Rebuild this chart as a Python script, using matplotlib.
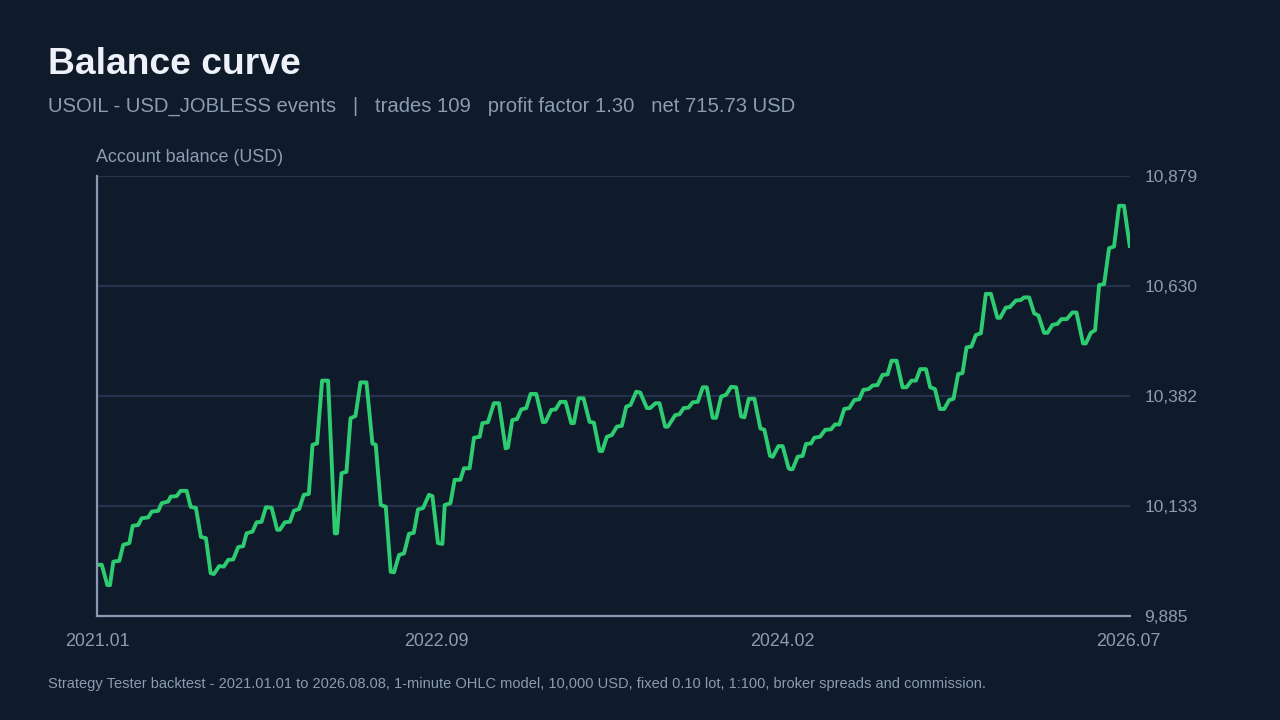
"""Balance curve - USOIL / USD_JOBLESS strategy tester backtest, dark theme."""
import matplotlib
matplotlib.use("Agg")
import matplotlib.pyplot as plt
from matplotlib.ticker import FuncFormatter

plt.rcParams["font.family"] = ["Liberation Sans", "DejaVu Sans"]

BG = "#0f1a2b"
GREEN = "#2ecc71"
GRID = "#24334a"
SPINE = "#8a9ab2"
MUTED = "#8d9cb1"
TITLE = "#eef2f8"

# x = position along the trade sequence (0..109), y = account balance in USD
curve_x = [
    0.0, 0.50, 1.09, 1.37, 1.72, 2.35, 2.77, 3.41, 3.76, 4.35, 4.71, 5.41, 5.77, 6.46,
    6.82, 7.52, 7.77, 8.40, 8.82, 9.46, 9.88, 10.44, 10.96, 11.49, 11.99, 12.33, 12.89,
    13.39, 13.84, 14.37, 14.90, 15.42, 15.78, 16.41, 16.84, 17.36, 17.82, 18.42, 19.01,
    19.29, 19.82, 20.35, 20.77, 21.33, 21.82, 22.35, 22.74, 23.22, 23.75, 24.38, 24.74,
    25.09, 25.33, 25.80, 26.32, 26.75, 27.27, 27.80, 28.43, 29.06, 29.41, 29.94, 30.47,
    30.99, 31.34, 31.87, 32.40, 32.92, 33.42, 33.87, 34.40, 35.03, 35.39, 35.98, 36.44,
    36.69, 37.29, 37.74, 38.34, 38.72, 39.32, 39.78, 40.38, 40.66, 41.25, 41.88, 42.41,
    43.12, 43.36, 43.82, 44.31, 44.77, 45.30, 45.75, 46.35, 47.05, 47.33, 47.93, 48.39,
    48.88, 49.44, 50.04, 50.32, 50.81, 51.34, 51.97, 52.43, 53.03, 53.31, 53.80, 54.32,
    54.85, 55.38, 55.84, 56.30, 56.90, 57.32, 58.02, 58.37, 58.93, 59.35, 59.95, 60.23,
    61.01, 61.46, 61.91, 62.41, 62.86, 63.39, 63.92, 64.34, 64.97, 65.33, 65.86, 66.38,
    66.91, 67.44, 67.96, 68.31, 68.77, 69.37, 70.00, 70.42, 71.02, 71.30, 71.90, 72.35,
    72.98, 73.13, 73.40, 73.93, 74.46, 74.82, 75.34, 75.69, 76.29, 76.85, 77.45, 77.87,
    78.33, 78.85, 79.38, 79.91, 80.44, 80.86, 81.42, 81.84, 82.36, 82.89, 83.42, 83.84,
    84.37, 85.00, 85.42, 85.95, 86.41, 86.86, 87.47, 87.92, 88.42, 88.94, 89.40, 89.92,
    90.38, 90.87, 91.33, 91.75, 92.27, 92.74, 93.27, 93.79, 94.32, 95.01, 95.30, 95.90,
    96.32, 96.96, 97.48, 97.83, 98.36, 98.89, 99.34, 99.94, 100.29, 100.82, 101.34,
    101.76, 102.33, 102.92, 103.35, 104.05, 104.34, 104.87, 105.32, 105.74, 106.27,
    106.79, 107.32, 107.85, 108.37, 109.0,
]
curve_balance = [
    10000, 10000, 9954, 9954, 10007, 10009, 10045, 10049, 10088, 10090, 10105, 10107,
    10120, 10122, 10139, 10143, 10154, 10155, 10167, 10167, 10131, 10128, 10063, 10060,
    9981, 9979, 9997, 9996, 10011, 10012, 10040, 10042, 10071, 10075, 10096, 10097,
    10130, 10129, 10079, 10079, 10096, 10097, 10122, 10126, 10158, 10160, 10271, 10274,
    10416, 10416, 10244, 10071, 10071, 10207, 10210, 10331, 10336, 10412, 10412, 10274,
    10271, 10135, 10131, 9984, 9983, 10022, 10026, 10070, 10072, 10125, 10128, 10158,
    10155, 10049, 10047, 10135, 10139, 10192, 10192, 10218, 10218, 10287, 10289, 10320,
    10322, 10365, 10365, 10263, 10265, 10327, 10329, 10351, 10354, 10386, 10386, 10322,
    10323, 10350, 10351, 10368, 10368, 10320, 10320, 10376, 10376, 10323, 10321, 10257,
    10257, 10289, 10293, 10312, 10314, 10357, 10361, 10391, 10389, 10354, 10354, 10365,
    10365, 10312, 10312, 10338, 10340, 10354, 10355, 10367, 10368, 10401, 10401, 10332,
    10332, 10380, 10384, 10402, 10401, 10335, 10333, 10375, 10375, 10308, 10305, 10246,
    10244, 10268, 10268, 10218, 10216, 10216, 10244, 10246, 10273, 10274, 10287, 10289,
    10305, 10306, 10317, 10317, 10352, 10354, 10372, 10374, 10395, 10397, 10405, 10406,
    10429, 10430, 10461, 10461, 10401, 10401, 10416, 10416, 10442, 10442, 10401, 10397,
    10352, 10352, 10372, 10375, 10431, 10433, 10491, 10493, 10519, 10523, 10612, 10612,
    10558, 10558, 10581, 10582, 10597, 10598, 10604, 10604, 10568, 10563, 10524, 10524,
    10542, 10544, 10555, 10555, 10570, 10570, 10500, 10500, 10524, 10530, 10632, 10634,
    10715, 10719, 10811, 10811, 10716,
]

y_ticks = [9885, 10133, 10382, 10630, 10879]
x_tick_pos = [0, 35.8, 72.3, 108.8]
x_tick_labels = ["2021.01", "2022.09", "2024.02", "2026.07"]

fig = plt.figure(figsize=(12.8, 7.2), dpi=100, facecolor=BG)
ax = fig.add_axes([0.0758, 0.1449, 0.8070, 0.6111], facecolor=BG)

ax.plot(curve_x, curve_balance, color=GREEN, lw=2.8, solid_joinstyle="round",
        solid_capstyle="butt", zorder=3)

ax.set_xlim(0, 109)
ax.set_ylim(y_ticks[0], y_ticks[-1])
ax.set_yticks(y_ticks)
ax.yaxis.set_major_formatter(FuncFormatter(lambda v, _: f"{v:,.0f}"))
ax.yaxis.tick_right()
ax.set_xticks(x_tick_pos)
ax.set_xticklabels(x_tick_labels)
ax.tick_params(axis="y", length=0, pad=10.5, labelsize=12.5, labelcolor=MUTED)
ax.tick_params(axis="x", length=0, pad=12.5, labelsize=12.9, labelcolor=MUTED)

ax.grid(axis="y", color=GRID, lw=1.6, zorder=1)
ax.grid(axis="x", visible=False)
for side in ("top", "right"):
    ax.spines[side].set_visible(False)
for side in ("left", "bottom"):
    ax.spines[side].set_color(SPINE)
    ax.spines[side].set_linewidth(1.6)
    ax.spines[side].set_zorder(4)

fig.text(48 / 1280, 1 - 74.5 / 720, "Balance curve", fontsize=26.8, fontweight="bold",
         color=TITLE, ha="left", va="baseline")
fig.text(48 / 1280, 1 - 111.5 / 720,
         "USOIL - USD_JOBLESS events   |   trades 109   profit factor 1.30   net 715.73 USD",
         fontsize=14.55, color=MUTED, ha="left", va="baseline")
fig.text(96 / 1280, 1 - 162.5 / 720, "Account balance (USD)", fontsize=12.9,
         color=MUTED, ha="left", va="baseline")
fig.text(48 / 1280, 1 - 688 / 720,
         "Strategy Tester backtest - 2021.01.01 to 2026.08.08, 1-minute OHLC model, "
         "10,000 USD, fixed 0.10 lot, 1:100, broker spreads and commission.",
         fontsize=10.5, color=MUTED, ha="left", va="baseline")

fig.savefig("out.png", dpi=100, facecolor=BG)
plt.close(fig)
